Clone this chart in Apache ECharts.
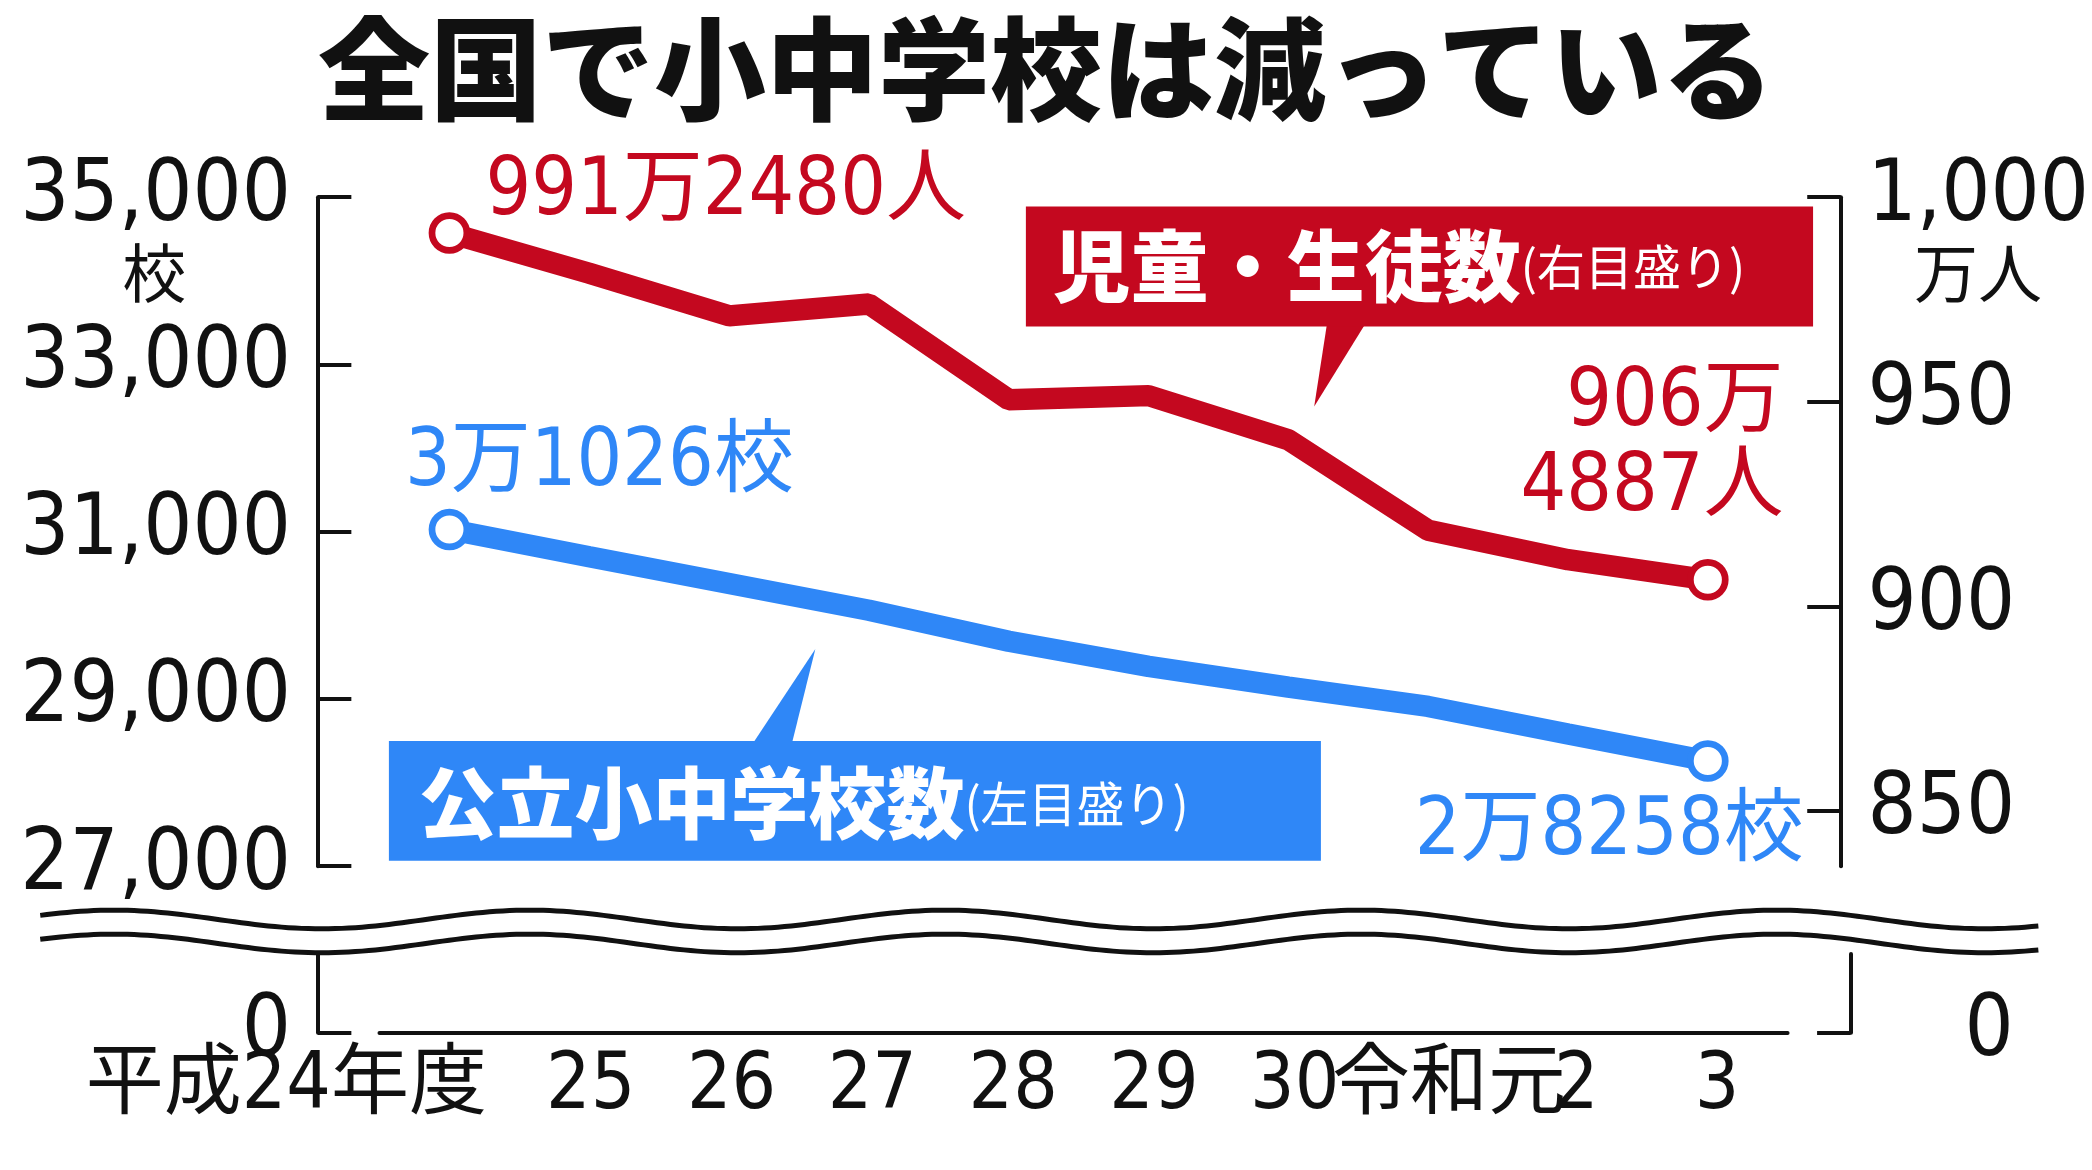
<!DOCTYPE html>
<html><head><meta charset="utf-8">
<script src="https://cdn.jsdelivr.net/npm/echarts@6/dist/echarts.min.js"></script>
<style>html,body{margin:0;padding:0;background:#fff}#c{width:2092px;height:1170px}</style>
</head><body><div id="c"></div>
<script>
const categories = ['平成24年度','25','26','27','28','29','30','令和元','2','3'];
const schools = [31026, 30700, 30380, 30060, 29690, 29390, 29140, 28910, 28580, 28258];
const students = [991.248, 981.4, 971.0, 973.9, 950.5, 951.5, 940.7, 918.6, 911.4, 906.4887];
const leftTicks = [27000, 29000, 31000, 33000, 35000];
const rightTicks = [850, 900, 950, 1000];

const SX = 2092/1560, SY = 1170/878;
const X = v => v*SX, Y = v => v*SY;
const RED = '#c4081f', BLUE = '#2f87f7';
const NUM = "'Liberation Sans Narrow','DejaVu Sans Condensed','Noto Sans CJK JP',sans-serif";
const JP = "'Noto Sans CJK JP',sans-serif";

const chart = echarts.init(document.getElementById('c'));
const gl = X(283), gw = X(1333)-X(283);
const offL = X(283)-X(237), offR = X(1380)-X(1333);

function wave(yc){
  const pts=[];
  for(let x=30;x<=1520;x+=5){
    pts.push([X(x), Y(yc + 7*Math.cos((x-550)/310*2*Math.PI))]);
  }
  return pts;
}
const wTop = wave(690), wBot = wave(708);
const band = wTop.concat(wBot.slice().reverse());

const numLabel = {fontFamily:NUM, fontSize:86, color:'#111'};
chart.setOption({
  animation:false,
  grid:[
    {left:gl, width:gw, top:Y(148), height:Y(650)-Y(148)},
    {left:gl, width:gw, top:Y(716), height:Y(775)-Y(716)}
  ],
  xAxis:[
    {gridIndex:0, type:'category', data:categories, show:false},
    {gridIndex:1, type:'category', data:categories,
     axisLine:{lineStyle:{color:'#111', width:4}},
     axisTick:{alignWithLabel:true, length:Y(16), lineStyle:{color:'#111', width:4}},
     axisLabel:{interval:0, margin:Y(12), color:'#111', fontFamily:NUM, fontSize:78,
       formatter:(v,i)=> i===0 ? '{f|'+v+'}' : (i===7 ? '{g|'+v+'}' : v),
       rich:{f:{fontFamily:NUM, fontSize:78, color:'#111', padding:[0,X(244),0,0]},
             g:{fontFamily:NUM, fontSize:78, color:'#111', padding:[0,0,0,X(20)]}}}}
  ],
  yAxis:[
    {gridIndex:0, type:'value', min:27000, max:35000, interval:2000, offset:offL, position:'left',
     axisLine:{show:true, lineStyle:{color:'#111', width:4}},
     axisTick:{show:true, inside:true, length:X(25), lineStyle:{color:'#111', width:4}},
     splitLine:{show:false}, axisLabel:Object.assign({margin:X(20)}, numLabel)},
    {gridIndex:0, type:'value', min:1000-(650-148)/3.07, max:1000, offset:offR, position:'right',
     axisLine:{show:true, lineStyle:{color:'#111', width:4}},
     axisTick:{show:true, inside:true, length:X(25), customValues:rightTicks, lineStyle:{color:'#111', width:4}},
     splitLine:{show:false}, axisLabel:Object.assign({margin:X(20), customValues:rightTicks}, numLabel)},
    {gridIndex:1, type:'value', min:0, max:1, offset:offL, position:'left',
     axisLine:{show:true, lineStyle:{color:'#111', width:4}},
     axisTick:{show:true, inside:true, length:X(25), customValues:[0], lineStyle:{color:'#111', width:4}},
     splitLine:{show:false}, axisLabel:Object.assign({margin:X(20), customValues:[0]}, numLabel)},
    {gridIndex:1, type:'value', min:0, max:1, offset:offR, position:'right',
     axisLine:{show:true, lineStyle:{color:'#111', width:4}},
     axisTick:{show:true, inside:true, length:X(25), customValues:[0], lineStyle:{color:'#111', width:4}},
     splitLine:{show:false}, axisLabel:Object.assign({margin:X(85), customValues:[0]}, numLabel)}
  ],
  series:[
    {type:'line', xAxisIndex:0, yAxisIndex:1, data:students, lineStyle:{color:RED, width:X(16)},
     symbol:'circle', symbolSize:(v,p)=> (p.dataIndex===0||p.dataIndex===students.length-1)?X(26):0,
     itemStyle:{color:'#fff', borderColor:RED, borderWidth:X(5)}, z:3},
    {type:'line', xAxisIndex:0, yAxisIndex:0, data:schools, lineStyle:{color:BLUE, width:X(16)},
     symbol:'circle', symbolSize:(v,p)=> (p.dataIndex===0||p.dataIndex===schools.length-1)?X(26):0,
     itemStyle:{color:'#fff', borderColor:BLUE, borderWidth:X(5)}, z:3}
  ],
  graphic:[
    {type:'text', left:'center', top:Y(10), style:{text:'全国で小中学校は減っている', font:'900 112px '+JP, fill:'#111'}},
    {type:'text', x:X(115), y:Y(205), style:{text:'校', font:'64px '+JP, fill:'#111', align:'center', verticalAlign:'middle'}},
    {type:'text', x:X(1475), y:Y(205), style:{text:'万人', font:'64px '+JP, fill:'#111', align:'center', verticalAlign:'middle'}},
    {type:'text', x:X(362), y:Y(145), style:{text:'991万2480人', font:'80px '+NUM, fill:RED, verticalAlign:'middle'}},
    {type:'text', x:X(1330), y:Y(335), style:{text:'906万\n4887人', font:'80px '+NUM, fill:RED, align:'right', verticalAlign:'middle', lineHeight:Y(64)}},
    {type:'text', x:X(302), y:Y(348), style:{text:'3万1026校', font:'80px '+NUM, fill:BLUE, verticalAlign:'middle'}},
    {type:'text', x:X(1345), y:Y(625), style:{text:'2万8258校', font:'80px '+NUM, fill:BLUE, align:'right', verticalAlign:'middle'}},
    {type:'polygon', shape:{points:[[X(990),Y(240)],[X(1020),Y(240)],[X(980),Y(305)]]}, style:{fill:RED}, z:10},
    {type:'rect', shape:{x:X(765), y:Y(155), width:X(587), height:Y(90)}, style:{fill:RED}, z:10},
    {type:'text', x:X(785), y:Y(200), z:11, style:{text:'{a|児童・生徒数}{b|(右目盛り)}', verticalAlign:'middle',
      rich:{a:{font:'900 78px '+JP, fill:'#fff'}, b:{font:'48px '+JP, fill:'#fff'}}}},
    {type:'polygon', shape:{points:[[X(560),Y(560)],[X(590),Y(560)],[X(608),Y(487)]]}, style:{fill:BLUE}, z:10},
    {type:'rect', shape:{x:X(290), y:Y(556), width:X(695), height:Y(90)}, style:{fill:BLUE}, z:10},
    {type:'text', x:X(312), y:Y(603), z:11, style:{text:'{a|公立小中学校数}{b|(左目盛り)}', verticalAlign:'middle',
      rich:{a:{font:'900 78px '+JP, fill:'#fff'}, b:{font:'48px '+JP, fill:'#fff'}}}},
    {type:'polygon', shape:{points:band}, style:{fill:'#fff'}, z:20},
    {type:'polyline', shape:{points:wTop}, style:{stroke:'#111', lineWidth:5, fill:null}, z:21},
    {type:'polyline', shape:{points:wBot}, style:{stroke:'#111', lineWidth:5, fill:null}, z:21}
  ]
});
</script></body></html>
